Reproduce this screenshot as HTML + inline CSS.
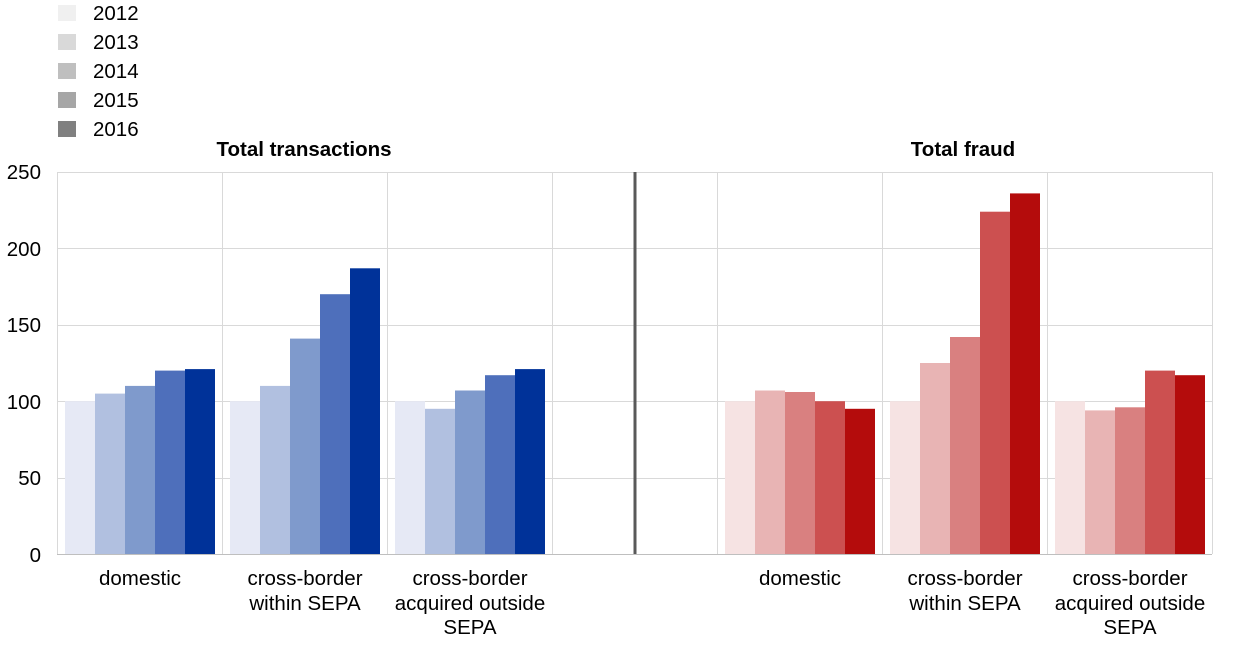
<!DOCTYPE html>
<html><head><meta charset="utf-8"><style>
body{margin:0;background:#fff;}
svg{display:block;font-family:"Liberation Sans",Arial,sans-serif;}
</style></head><body>
<svg width="1240" height="648" viewBox="0 0 1240 648">
<!-- legend -->
<g font-size="20.5" fill="#000">
<rect x="58" y="5" width="18" height="16" fill="#f0f0f0"/><text x="93" y="20">2012</text>
<rect x="58" y="34" width="18" height="16" fill="#d9d9d9"/><text x="93" y="49">2013</text>
<rect x="58" y="63" width="18" height="16" fill="#bfbfbf"/><text x="93" y="78">2014</text>
<rect x="58" y="92" width="18" height="16" fill="#a6a6a6"/><text x="93" y="107">2015</text>
<rect x="58" y="121" width="18" height="16" fill="#808080"/><text x="93" y="136">2016</text>
</g>
<g font-size="20.5" font-weight="bold" text-anchor="middle">
<text x="304" y="156">Total transactions</text>
<text x="963" y="156">Total fraud</text>
</g>
<!-- grid -->
<g stroke="#d9d9d9" stroke-width="1">
<line x1="57" y1="172.5" x2="1212" y2="172.5"/>
<line x1="57" y1="248.5" x2="1212" y2="248.5"/>
<line x1="57" y1="325.5" x2="1212" y2="325.5"/>
<line x1="57" y1="401.5" x2="1212" y2="401.5"/>
<line x1="57" y1="478.5" x2="1212" y2="478.5"/>
<line x1="57.5" y1="172" x2="57.5" y2="554"/>
<line x1="222.5" y1="172" x2="222.5" y2="554"/>
<line x1="387.5" y1="172" x2="387.5" y2="554"/>
<line x1="552.5" y1="172" x2="552.5" y2="554"/>
<line x1="717.5" y1="172" x2="717.5" y2="554"/>
<line x1="882.5" y1="172" x2="882.5" y2="554"/>
<line x1="1047.5" y1="172" x2="1047.5" y2="554"/>
<line x1="1212.5" y1="172" x2="1212.5" y2="554"/>
</g>
<!-- blue bars -->
<g>
<rect x="65" y="401.2" width="30" height="152.8" fill="#e6e9f5"/>
<rect x="95" y="393.6" width="30" height="160.4" fill="#b1c0e0"/>
<rect x="125" y="385.9" width="30" height="168.1" fill="#7f9acc"/>
<rect x="155" y="370.6" width="30" height="183.4" fill="#4e6fbb"/>
<rect x="185" y="369.1" width="30" height="184.9" fill="#003299"/>
<rect x="230" y="401.2" width="30" height="152.8" fill="#e6e9f5"/>
<rect x="260" y="385.9" width="30" height="168.1" fill="#b1c0e0"/>
<rect x="290" y="338.6" width="30" height="215.4" fill="#7f9acc"/>
<rect x="320" y="294.2" width="30" height="259.8" fill="#4e6fbb"/>
<rect x="350" y="268.3" width="30" height="285.7" fill="#003299"/>
<rect x="395" y="401.2" width="30" height="152.8" fill="#e6e9f5"/>
<rect x="425" y="408.8" width="30" height="145.2" fill="#b1c0e0"/>
<rect x="455" y="390.5" width="30" height="163.5" fill="#7f9acc"/>
<rect x="485" y="375.2" width="30" height="178.8" fill="#4e6fbb"/>
<rect x="515" y="369.1" width="30" height="184.9" fill="#003299"/>
</g>
<!-- red bars -->
<g>
<rect x="725" y="401.2" width="30" height="152.8" fill="#f6e3e3"/>
<rect x="755" y="390.5" width="30" height="163.5" fill="#e8b4b4"/>
<rect x="785" y="392" width="30" height="162" fill="#d98080"/>
<rect x="815" y="401.2" width="30" height="152.8" fill="#cc5050"/>
<rect x="845" y="408.8" width="30" height="145.2" fill="#b40c0c"/>
<rect x="890" y="401.2" width="30" height="152.8" fill="#f6e3e3"/>
<rect x="920" y="363" width="30" height="191" fill="#e8b4b4"/>
<rect x="950" y="337" width="30" height="217" fill="#d98080"/>
<rect x="980" y="211.7" width="30" height="342.3" fill="#cc5050"/>
<rect x="1010" y="193.4" width="30" height="360.6" fill="#b40c0c"/>
<rect x="1055" y="401.2" width="30" height="152.8" fill="#f6e3e3"/>
<rect x="1085" y="410.4" width="30" height="143.6" fill="#e8b4b4"/>
<rect x="1115" y="407.3" width="30" height="146.7" fill="#d98080"/>
<rect x="1145" y="370.6" width="30" height="183.4" fill="#cc5050"/>
<rect x="1175" y="375.2" width="30" height="178.8" fill="#b40c0c"/>
</g>
<line x1="57" y1="554.5" x2="1212" y2="554.5" stroke="#bfbfbf" stroke-width="1"/>
<line x1="635" y1="172" x2="635" y2="554" stroke="#595959" stroke-width="3"/>
<!-- y labels -->
<g font-size="20.5" text-anchor="end">
<text x="41" y="179">250</text>
<text x="41" y="256">200</text>
<text x="41" y="332">150</text>
<text x="41" y="409">100</text>
<text x="41" y="485">50</text>
<text x="41" y="562">0</text>
</g>
<!-- x labels -->
<g font-size="20.5" text-anchor="middle">
<text x="140" y="585">domestic</text>
<text x="305" y="585">cross-border</text><text x="305" y="610">within SEPA</text>
<text x="470" y="585">cross-border</text><text x="470" y="610">acquired outside</text><text x="470" y="634">SEPA</text>
<text x="800" y="585">domestic</text>
<text x="965" y="585">cross-border</text><text x="965" y="610">within SEPA</text>
<text x="1130" y="585">cross-border</text><text x="1130" y="610">acquired outside</text><text x="1130" y="634">SEPA</text>
</g>
</svg>
</body></html>
